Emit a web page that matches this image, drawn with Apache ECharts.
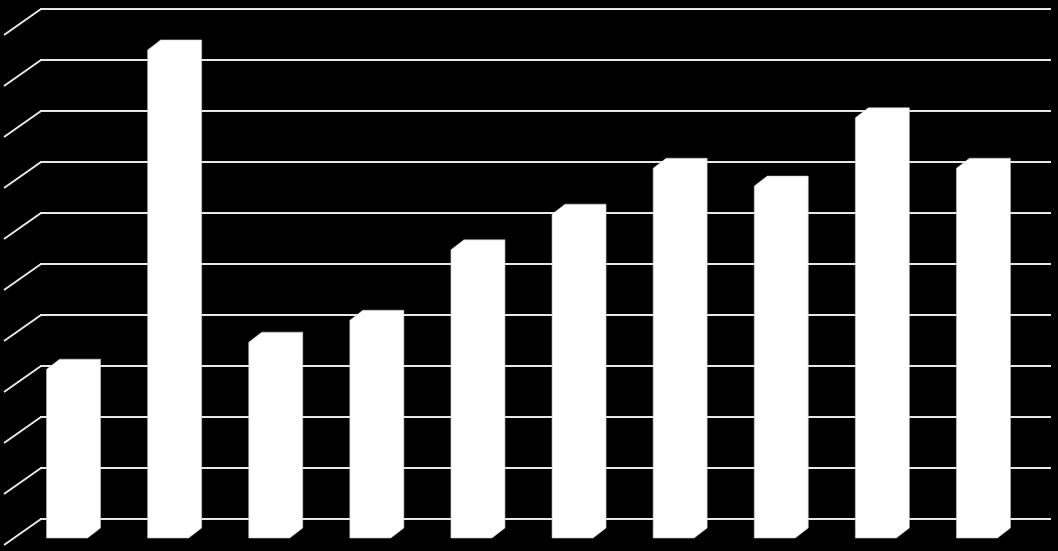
<!DOCTYPE html>
<html>
<head>
<meta charset="utf-8">
<script src="https://cdn.jsdelivr.net/npm/echarts@6/dist/echarts.min.js"></script>
<style>
html,body{margin:0;padding:0;background:#000;}
#chart{width:1058px;height:551px;}
</style>
</head>
<body>
<div id="chart"></div>
<script>
var categories = ['1','2','3','4','5','6','7','8','9','10'];
var values = [3.31, 9.57, 3.84, 4.27, 5.65, 6.35, 7.25, 6.90, 8.24, 7.25];
var tickValues = [0,1,2,3,4,5,6,7,8,9,10];

var chart = echarts.init(document.getElementById('chart'), null, {renderer:'canvas'});
var lineColor = '#e8e8e8';

chart.setOption({
  backgroundColor: '#000',
  animation: false,
  grid: {left: 40, right: 7, top: 9, bottom: 32},
  xAxis: {
    type: 'category', data: categories,
    axisLine: {show: false}, axisTick: {show: false}, axisLabel: {show: false},
    splitLine: {show: false}
  },
  yAxis: {
    type: 'value', min: 0, max: 10, interval: 1,
    axisLine: {show: false}, axisTick: {show: false}, axisLabel: {show: false},
    splitLine: {show: true, lineStyle: {color: lineColor, width: 2}}
  },
  series: [
    {
      type: 'custom',
      z: 1,
      silent: true,
      data: tickValues.map(function(v){ return [0, v]; }),
      renderItem: function(params, api) {
        var left = params.coordSys.x;
        var y = api.coord([0, api.value(1)])[1];
        return {
          type: 'line',
          shape: {x1: left + 1, y1: y, x2: left - 36, y2: y + 26},
          style: {stroke: lineColor, lineWidth: 2}
        };
      }
    },
    {
      type: 'custom',
      z: 5,
      data: values.map(function(v, i){ return [i, v]; }),
      renderItem: function(params, api) {
        var i = api.value(0);
        var top = api.coord([i, api.value(1)]);
        var base = api.coord([i, 0]);
        var cx = base[0];
        var x0 = cx - 31, x1 = cx + 10;
        var yb = base[1] + 9, yt = top[1] + 9;
        var dx = 13, dy = 10;
        return {
          type: 'polygon',
          shape: {points: [
            [x0 - dx, yt + dy], [x0, yt], [x1, yt], [x1, yb],
            [x1 - dx, yb + dy], [x0 - dx, yb + dy]
          ]},
          style: {fill: '#ffffff', stroke: '#c8c8c8', lineWidth: 0.6}
        };
      }
    }
  ]
});
</script>
</body>
</html>
